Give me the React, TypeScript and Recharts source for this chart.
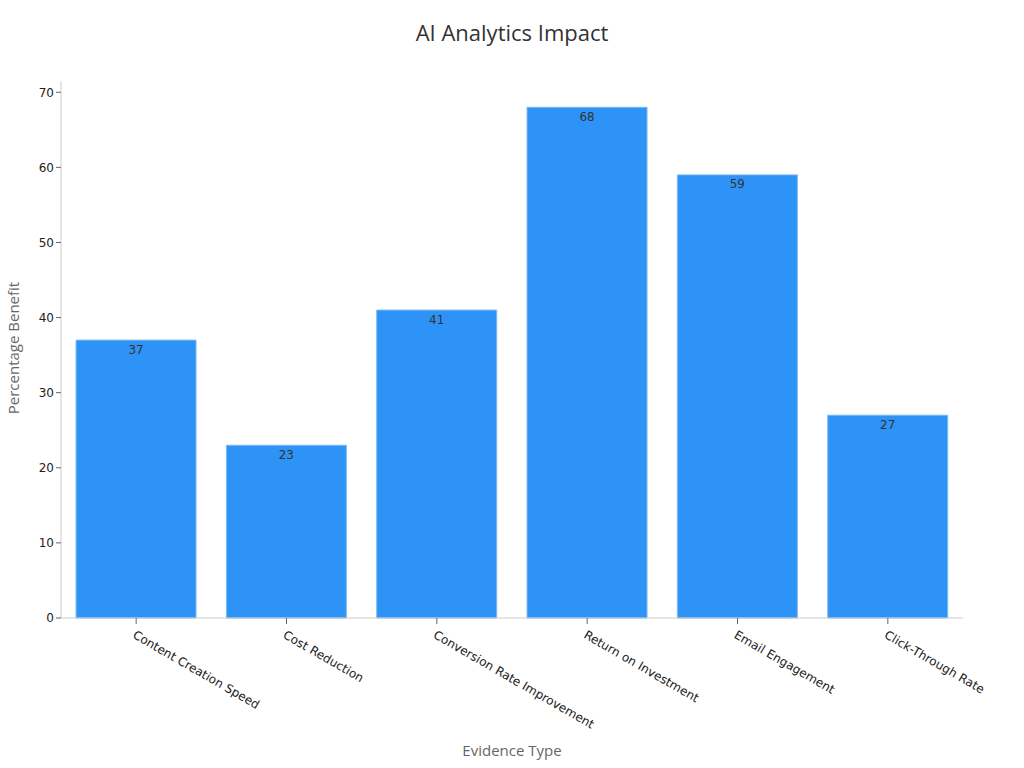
import { BarChart, Bar, XAxis, YAxis, LabelList } from 'recharts';

const categories = [
  'Content Creation Speed',
  'Cost Reduction',
  'Conversion Rate Improvement',
  'Return on Investment',
  'Email Engagement',
  'Click-Through Rate',
];
const benefitValues = [37, 23, 41, 68, 59, 27];
const yTicks = [0, 10, 20, 30, 40, 50, 60, 70];

const data = categories.map((name, i) => ({ name, value: benefitValues[i] }));

const App = () => {
  return (
    <div style={{ position: 'absolute', left: 0, top: 0, width: 1024, height: 768, background: '#fff' }}>
      <div
        style={{
          position: 'absolute',
          top: 17,
          width: 1024,
          textAlign: 'center',
          fontFamily: '"Open Sans", sans-serif',
          fontSize: 22,
          color: '#333',
        }}
      >
        AI Analytics Impact
      </div>
      <div
        style={{
          position: 'absolute',
          top: 740,
          width: 1024,
          textAlign: 'center',
          fontFamily: '"Open Sans", sans-serif',
          fontSize: 15,
          color: '#666',
        }}
      >
        Evidence Type
      </div>
      <div
        style={{
          position: 'absolute',
          left: 13,
          top: 348,
          transform: 'translate(-50%, -50%) rotate(-90deg)',
          whiteSpace: 'nowrap',
          fontFamily: '"Open Sans", sans-serif',
          fontSize: 15,
          color: '#666',
        }}
      >
        Percentage Benefit
      </div>
      <BarChart
        width={1024}
        height={768}
        data={data}
        margin={{ top: 81, right: 61, left: 0, bottom: 40 }}
        barCategoryGap="10%"
        style={{ fontFamily: '"DejaVu Sans", sans-serif' }}
      >
        <XAxis
          dataKey="name"
          interval={0}
          height={110}
          angle={30}
          textAnchor="start"
          tick={{ fill: '#222', fontSize: 12, dy: 4 }}
          axisLine={{ stroke: '#ccc' }}
          tickLine={{ stroke: '#666' }}
          tickSize={6}
        />
        <YAxis
          width={61}
          domain={[0, 71.5]}
          ticks={yTicks}
          tick={{ fill: '#222', fontSize: 12 }}
          axisLine={{ stroke: '#ccc' }}
          tickLine={{ stroke: '#666' }}
          tickSize={5}
        />
        <Bar dataKey="value" fill="#2e93f6" stroke="#7cb9f5" strokeWidth={1} isAnimationActive={false}>
          <LabelList dataKey="value" position="insideTop" offset={5} fill="#333" fontSize={12} />
        </Bar>
      </BarChart>
    </div>
  );
};

export default App;
